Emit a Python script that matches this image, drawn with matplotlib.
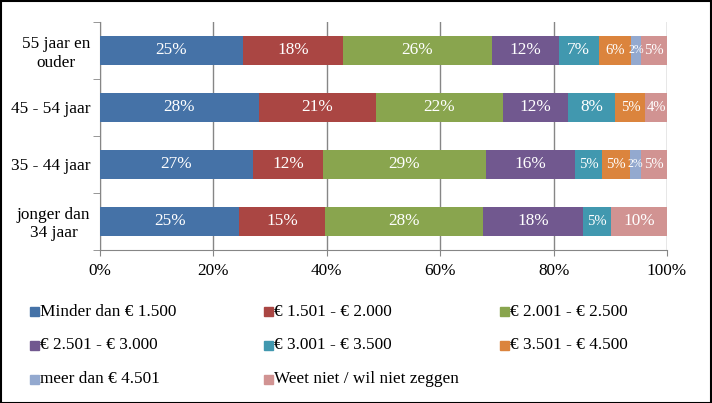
"""Stacked 100% bar chart: netto inkomen per leeftijdsgroep."""

import matplotlib

matplotlib.use("Agg")

import matplotlib.pyplot as plt
import numpy as np
from matplotlib.patches import Rectangle

plt.rcParams["font.family"] = ["Liberation Serif", "DejaVu Serif"]

categories = ["jonger dan\n34 jaar", "35 - 44 jaar", "45 - 54 jaar", "55 jaar en\nouder"]
series = [
    "Minder dan € 1.500",
    "€ 1.501 - € 2.000",
    "€ 2.001 - € 2.500",
    "€ 2.501 - € 3.000",
    "€ 3.001 - € 3.500",
    "€ 3.501 - € 4.500",
    "meer dan € 4.501",
    "Weet niet / wil niet zeggen",
]
# rows follow series, columns follow categories (bottom to top), in %
values = np.array([
    [24.6, 27.0, 28.0, 25.2],
    [15.0, 12.3, 20.6, 17.7],
    [28.0, 28.8, 22.4, 26.2],
    [17.6, 15.7, 11.6, 11.8],
    [4.9, 4.8, 8.3, 7.1],
    [0.0, 4.9, 5.3, 5.6],
    [0.0, 1.9, 0.0, 1.8],
    [9.9, 4.6, 3.8, 4.6],
])
colors = ["#4572A7", "#AA4643", "#89A54E", "#71588F",
          "#4198AF", "#DB843D", "#93A9CF", "#D19392"]

FS = 12.4
W, H = 712, 403
fig = plt.figure(figsize=(W / 100, H / 100), dpi=100)
ax = fig.add_axes([100 / W, 1 - 249.5 / H, 567 / W, 227.5 / H])


def label_size(v):
    # narrow segments get smaller labels so neighbours don't collide
    if v < 3:
        return 8.5
    if v < 6:
        return 10.5
    return FS


y = np.arange(len(categories))
left = np.zeros(len(categories))
for vals, color in zip(values, colors):
    ax.barh(y, vals, left=left, height=0.51, color=color, zorder=3)
    for yi, (l, v) in enumerate(zip(left, vals)):
        if v > 0:
            ax.text(l + v / 2, yi, f"{v:.0f}%", ha="center", va="center",
                    color="white", fontsize=label_size(v), zorder=4)
    left += vals

ax.set_xlim(0, 100)
ax.set_ylim(-0.5, len(categories) - 0.5)
ax.set_xticks(np.arange(0, 101, 20))
ax.set_xticklabels([f"{t}%" for t in range(0, 101, 20)], fontsize=FS)
ax.set_yticks(y)
ax.set_yticklabels(categories, fontsize=FS, multialignment="center")
ax.set_yticks(np.arange(-0.5, len(categories)), minor=True)
ax.tick_params(axis="y", which="major", length=0, pad=7)
ax.tick_params(axis="y", which="minor", length=5, color="#868686")
ax.tick_params(axis="x", length=4, color="#868686", pad=6)
ax.xaxis.grid(True, color="#868686", linewidth=1, zorder=0)
for side in ("top", "right"):
    ax.spines[side].set_visible(False)
for side in ("left", "bottom"):
    ax.spines[side].set_color("#868686")

# legend laid out in rows of three, like the original
col_x = [30, 264, 500]
row_y = [311.5, 345, 379]
for i, (name, color) in enumerate(zip(series, colors)):
    x0 = col_x[i % 3]
    y0 = row_y[i // 3]
    fig.patches.append(Rectangle((x0 / W, 1 - (y0 + 4.5) / H), 9 / W, 9 / H,
                                 transform=fig.transFigure, color=color))
    fig.text((x0 + 10) / W, 1 - y0 / H, name, ha="left", va="center",
             fontsize=FS)

fig.patches.append(Rectangle((0.001, 0.001), 0.998, 0.997, transform=fig.transFigure,
                             fill=False, edgecolor="black", linewidth=1.5))

fig.savefig("out.png", dpi=100)
